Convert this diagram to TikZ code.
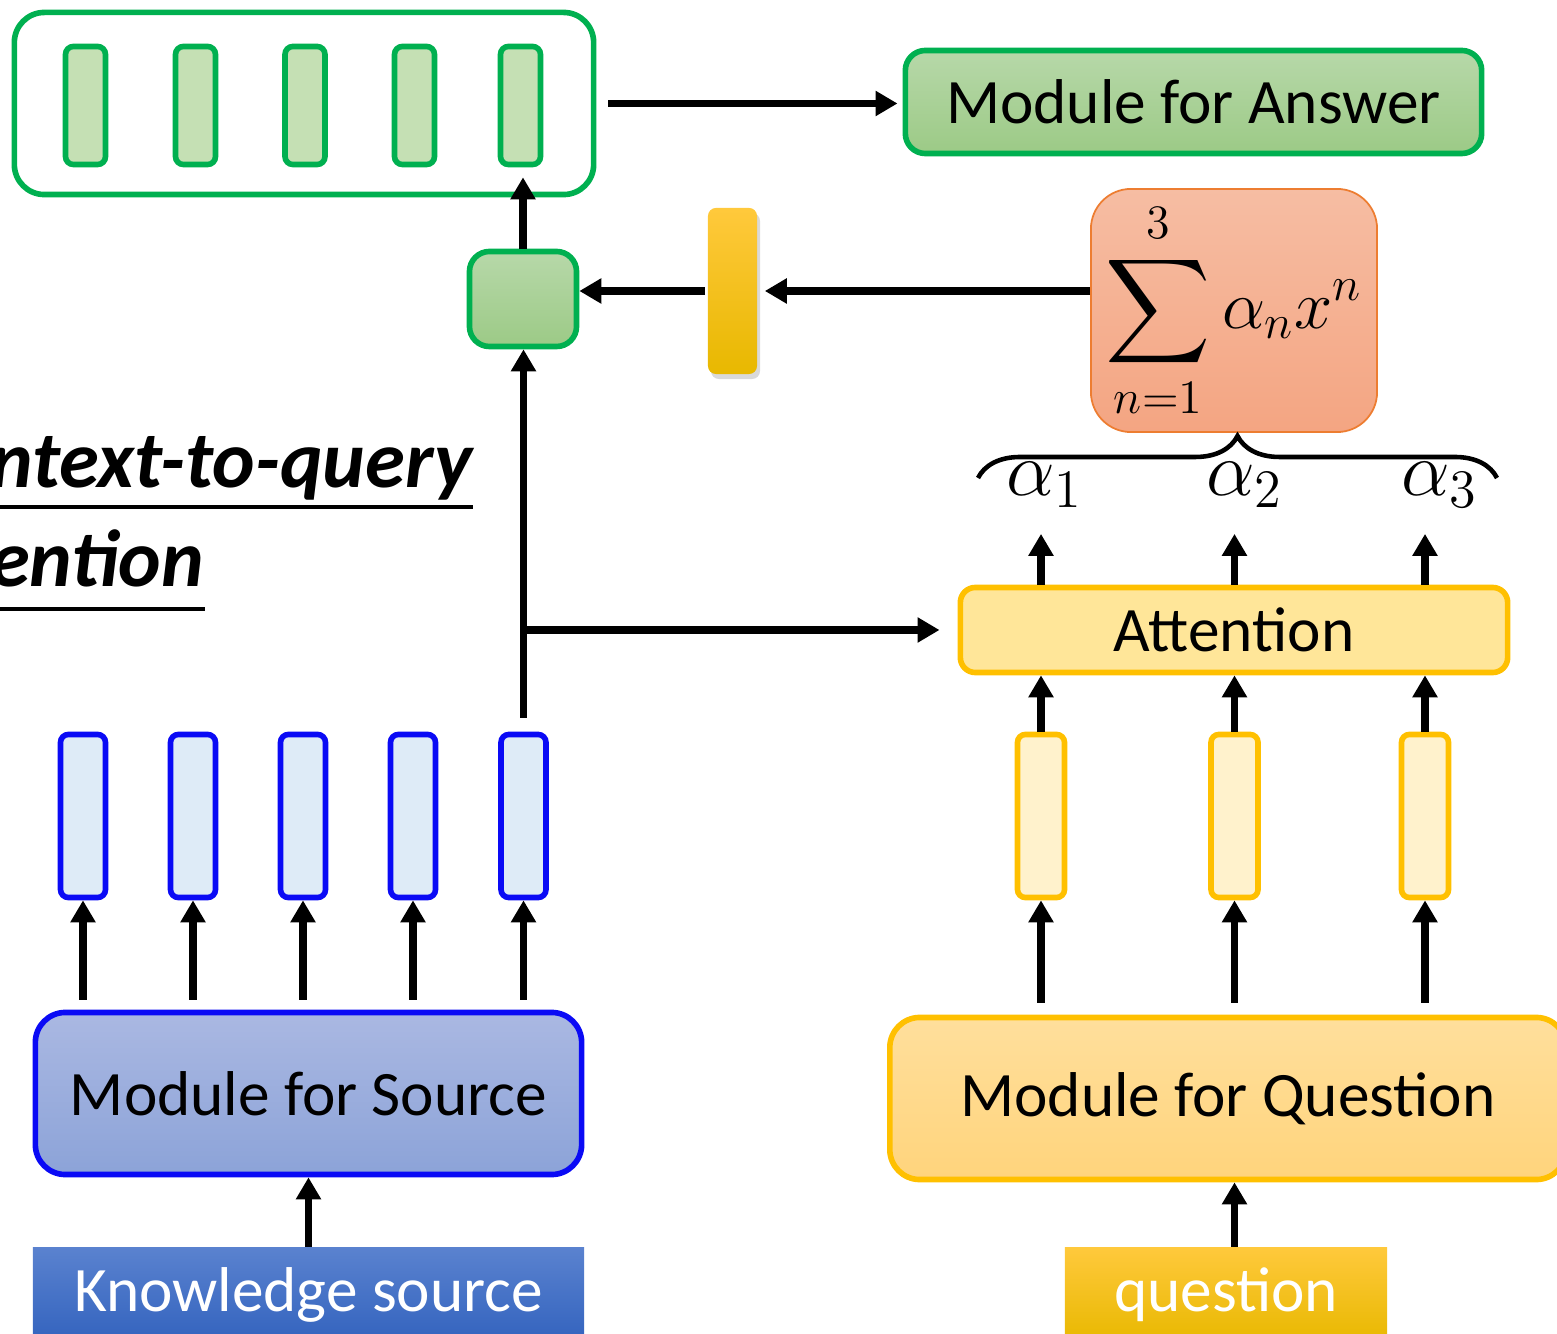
\documentclass[tikz,border=0pt]{standalone}
\usepackage{fix-cm}
\usepackage{exscale}
\usepackage{fontspec}
\setmainfont{Carlito}
\usetikzlibrary{arrows.meta,shadows,decorations.pathreplacing}

\definecolor{ggreen}{HTML}{00B050}
\definecolor{gbarfill}{HTML}{C5E0B4}
\definecolor{gtop}{HTML}{B7D8A9}
\definecolor{gbot}{HTML}{9CCA86}
\definecolor{bblue}{HTML}{0A0AF5}
\definecolor{bbarfill}{HTML}{DEEBF7}
\definecolor{btop}{HTML}{AAB8E2}
\definecolor{bbot}{HTML}{8CA3D8}
\definecolor{kstop}{HTML}{5A82CF}
\definecolor{ksbot}{HTML}{3363BE}
\definecolor{yborder}{HTML}{FFC000}
\definecolor{ybarfill}{HTML}{FFF2CC}
\definecolor{attfill}{HTML}{FFE699}
\definecolor{ytop}{HTML}{FFDF9C}
\definecolor{ybot}{HTML}{FFD47C}
\definecolor{goldtop}{HTML}{FFC93C}
\definecolor{goldmid}{HTML}{FFC400}
\definecolor{goldbot}{HTML}{E8B800}
\definecolor{sumtop}{HTML}{F6BDA3}
\definecolor{sumbot}{HTML}{F4A582}
\definecolor{sumline}{HTML}{ED7D31}

\begin{document}
\begin{tikzpicture}[x=0.01cm,y=-0.01cm,>={Triangle[length=0.22cm,width=0.24cm]}]
		\tikzstyle{bigfont}=[font=\fontsize{18}{22}\selectfont]
		\tikzstyle{bar}=[rectangle,rounded corners=0.08cm,line width=1.6pt,inner sep=0pt]
		\tikzstyle{gbar}=[bar,draw=ggreen,fill=gbarfill,minimum width=0.40cm,minimum height=1.18cm]
		\tikzstyle{bbar}=[bar,draw=bblue,fill=bbarfill,minimum width=0.45cm,minimum height=1.63cm]
		\tikzstyle{ybar}=[bar,draw=yborder,fill=ybarfill,minimum width=0.47cm,minimum height=1.63cm]
		\tikzstyle{module}=[rectangle,rounded corners=0.25cm,line width=1.6pt,bigfont]
		\tikzstyle{input}=[rectangle,bigfont,text=white,minimum height=0.95cm]
		\tikzstyle{alpha}=[font=\fontsize{22}{26}\selectfont]
		\tikzstyle{title}=[font=\fontsize{23}{28}\selectfont\bfseries\itshape,inner sep=0pt,anchor=base east]
		\tikzstyle{edge}=[draw=black,line width=2.1pt]

		\useasboundingbox (0,0) rectangle (1557,1334);

		\node [module,draw=ggreen,fill=white,rounded corners=0.3cm,minimum width=5.79cm,minimum height=1.82cm] (ctx) at (304,103.5) {};
		\node [gbar] (g1) at (85.5,105.5) {};
		\node [gbar] (g2) at (195.5,105.5) {};
		\node [gbar] (g3) at (305,105.5) {};
		\node [gbar] (g4) at (414.5,105.5) {};
		\node [gbar] (g5) at (520.5,105.5) {};

		\node [module,draw=ggreen,top color=gtop,bottom color=gbot,rounded corners=0.2cm,minimum width=5.76cm,minimum height=1.03cm] (ans) at (1193.5,102) {Module for Answer};
		\node [module,draw=ggreen,top color=gtop,bottom color=gbot,rounded corners=0.2cm,minimum width=1.07cm,minimum height=0.95cm] (mix) at (523,299) {};
		\node [bar,top color=goldtop,middle color=goldmid,bottom color=goldbot,minimum width=0.49cm,minimum height=1.66cm,
		       drop shadow={opacity=0.3,shadow xshift=0.03cm,shadow yshift=-0.05cm}] (gate) at (732.5,291) {};
		\node [rectangle,rounded corners=0.4cm,draw=sumline,line width=0.5pt,top color=sumtop,bottom color=sumbot,inner sep=0pt,
		       minimum width=2.86cm,minimum height=2.43cm,font=\fontsize{19.5}{24}\selectfont] (sum) at (1234,310.5)
		       {$\displaystyle\sum_{n=1}^{3}\alpha_n x^n$};

		\node [alpha] (a1) at (1045,485) {$\alpha_1$};
		\node [alpha] (a2) at (1245,485) {$\alpha_2$};
		\node [alpha] (a3) at (1440,485) {$\alpha_3$};
		\coordinate (bl) at (978,478);
		\coordinate (br) at (1497,478);

		\node [title] (t1) at (473,488) {Context-to-query};
		\node [title] (t2) at (205,587) {attention};

		\node [module,draw=yborder,fill=attfill,rounded corners=0.15cm,minimum width=5.47cm,minimum height=0.85cm] (att) at (1234,630) {Attention};
		\node [ybar] (q1) at (1041,816) {};
		\node [ybar] (q2) at (1234.5,816) {};
		\node [ybar] (q3) at (1425,816) {};
		\node [module,draw=yborder,top color=ytop,bottom color=ybot,rounded corners=0.3cm,minimum width=6.76cm,minimum height=1.62cm] (qmod) at (1228,1098.5) {Module for Question};
		\node [input,top color=goldtop,middle color=goldmid,bottom color=goldbot,minimum width=3.22cm] (qin) at (1226,1295) {question};

		\node [bbar] (b1) at (83,816) {};
		\node [bbar] (b2) at (193,816) {};
		\node [bbar] (b3) at (303,816) {};
		\node [bbar] (b4) at (413,816) {};
		\node [bbar] (b5) at (523.5,816) {};
		\node [module,draw=bblue,top color=btop,bottom color=bbot,rounded corners=0.3cm,minimum width=5.46cm,minimum height=1.62cm] (smod) at (308.5,1093.5) {Module for Source};
		\node [input,top color=kstop,bottom color=ksbot,minimum width=5.51cm] (sin) at (308.5,1295) {Knowledge source};

		\coordinate (split) at (523.5,630);

		\draw [line width=0.9pt] ([yshift=-0.19cm]t1.base west) -- ([yshift=-0.19cm]t1.base east);
		\draw [line width=0.9pt] ([yshift=-0.22cm]t2.base west) -- ([yshift=-0.22cm]t2.base east);
		\draw [line width=1.3pt,decorate,decoration={brace,amplitude=0.42cm}] (bl) -- (br);

		\path[edge,->,shorten <=0.12cm,shorten >=0.05cm] (ctx.east) -- (ctx.east -| ans.west);
		\path[edge,->,shorten >=0.1cm] (mix.north) -- (mix.north |- g5.south);
		\path[edge,->] (gate.west) -- (gate.west -| mix.east);
		\path[edge,->,shorten >=0.05cm] (gate.east -| sum.west) -- (gate.east);

		\path[edge,->,shorten >=0.14cm] (att.north -| q1) -- (a1.south -| q1);
		\path[edge,->,shorten >=0.14cm] (att.north -| q2) -- (a2.south -| q2);
		\path[edge,->,shorten >=0.14cm] (att.north -| q3) -- (a3.south -| q3);
		\path[edge,->] (q1.north) -- (q1.north |- att.south);
		\path[edge,->] (q2.north) -- (q2.north |- att.south);
		\path[edge,->] (q3.north) -- (q3.north |- att.south);
		\path[edge,->,shorten <=0.12cm] (qmod.north -| q1) -- (q1.south);
		\path[edge,->,shorten <=0.12cm] (qmod.north -| q2) -- (q2.south);
		\path[edge,->,shorten <=0.12cm] (qmod.north -| q3) -- (q3.south);
		\path[edge,->] (qin.north -| q2) -- (qmod.south -| q2);

		\path[edge,->,shorten <=0.1cm] (smod.north -| b1) -- (b1.south);
		\path[edge,->,shorten <=0.1cm] (smod.north -| b2) -- (b2.south);
		\path[edge,->,shorten <=0.1cm] (smod.north -| b3) -- (b3.south);
		\path[edge,->,shorten <=0.1cm] (smod.north -| b4) -- (b4.south);
		\path[edge,->,shorten <=0.1cm] (smod.north -| b5) -- (b5.south);
		\path[edge,->] (sin.north) -- (sin.north |- smod.south);

		\path[edge,->,shorten <=0.14cm] (b5.north) -- (b5.north |- mix.south);
		\path[edge,->,shorten >=0.18cm] (split) -- (split -| att.west);
\end{tikzpicture}
\end{document}
